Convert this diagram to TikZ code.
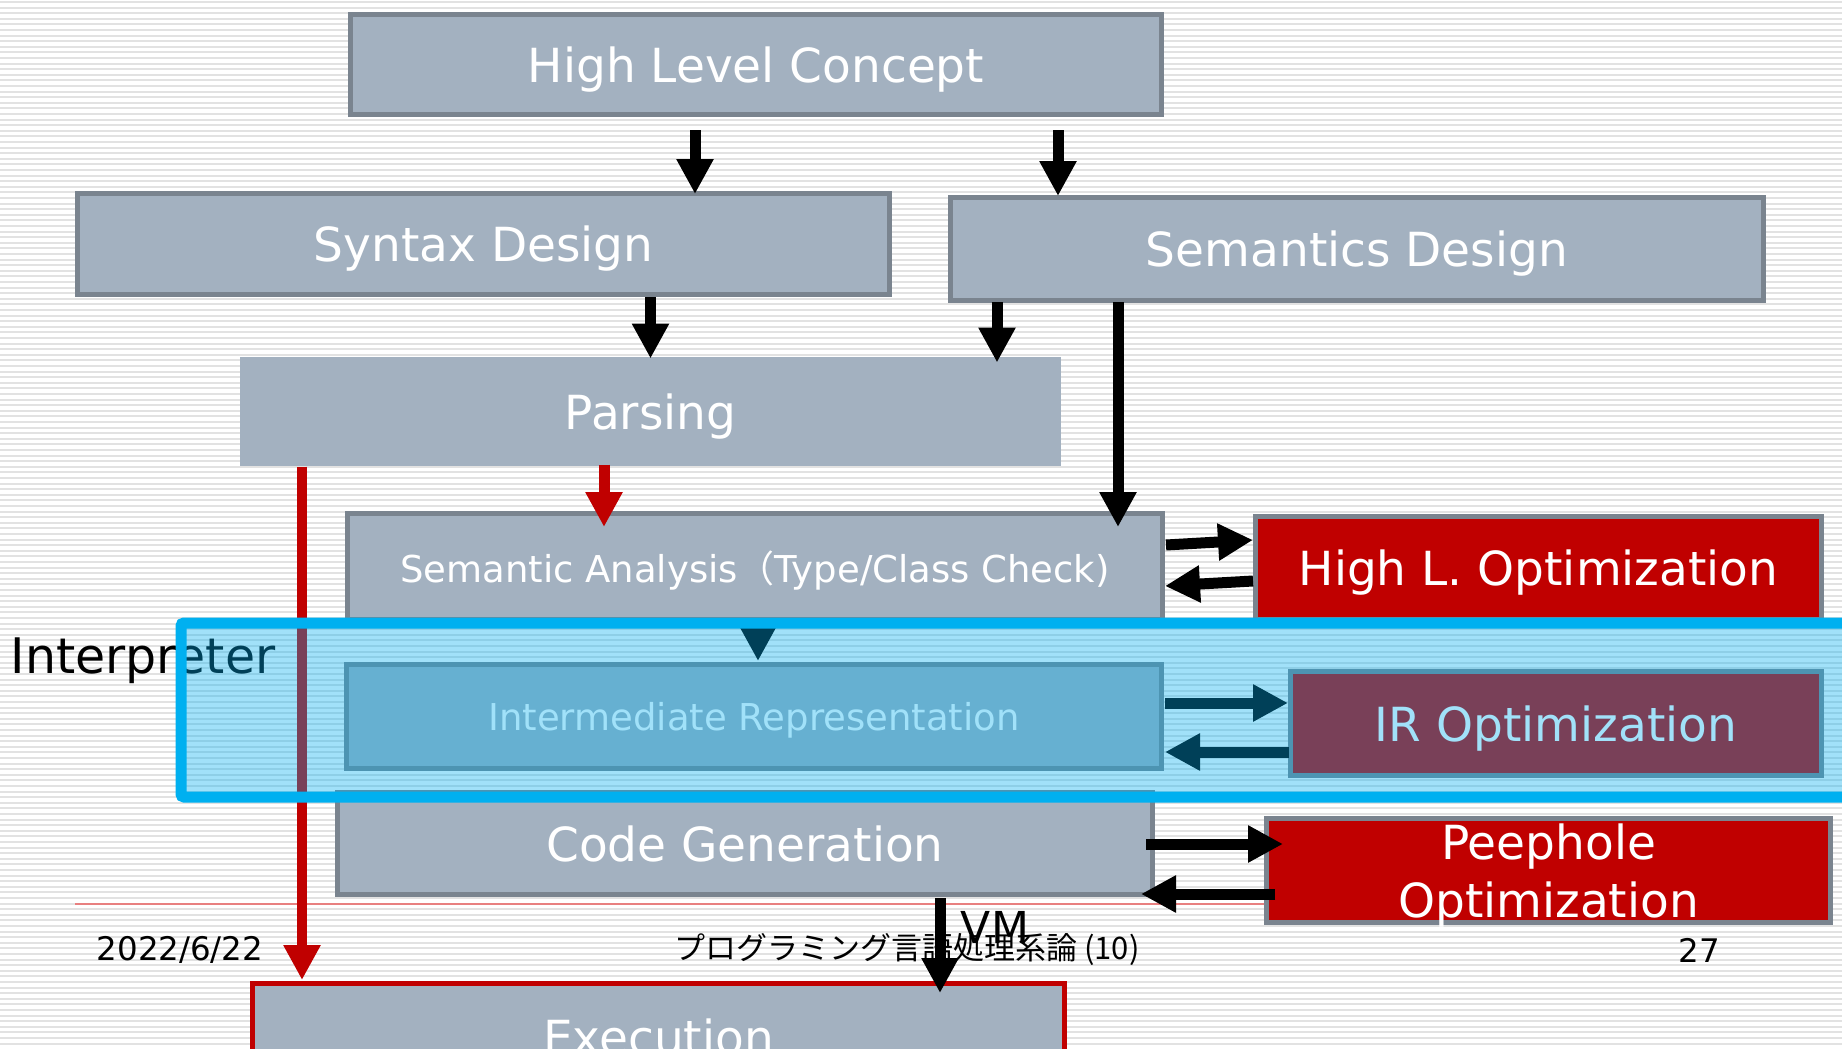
\documentclass[tikz,border=0pt]{standalone}
\usepackage{fontspec}
\setmainfont{DejaVu Sans}
\newfontfamily\cjkfont{Noto Sans CJK JP}
\usetikzlibrary{arrows.meta,calc}

\definecolor{boxgray}{HTML}{A3B1C0}
\definecolor{boxline}{HTML}{7A848F}
\definecolor{optred}{HTML}{C00000}
\definecolor{interblue}{HTML}{00B0F0}
\definecolor{footline}{HTML}{E88080}
\definecolor{stripegray}{HTML}{E2E2E2}

\newcommand{\stagefont}{\fontsize{47}{58}\selectfont}
\newcommand{\midfont}{\fontsize{37}{44}\selectfont}
\newcommand{\footfont}{\fontsize{32.5}{36}\selectfont}

\tikzset{
  stage/.style={draw=boxline, fill=boxgray, line width=5pt, text=white,
    font=\stagefont, inner sep=0pt, text depth=0pt, align=center},
  optbox/.style={stage, fill=optred},
  flow/.style={line width=11pt, -{Triangle[width=35pt,length=35pt]}},
  redflow/.style={flow, draw=optred}
}

\begin{document}
\begin{tikzpicture}[x=1pt, y=-1pt]
\useasboundingbox[fill=white] (0,0) rectangle (1842,1049);
% striped slide background
\foreach \y in {2,7.6,...,1049}
  \draw[stripegray, line width=2pt] (0,\y) -- (1842,\y);

% footer
\draw[footline, line width=2pt] (75,904) -- (1270,904);
\node[font=\footfont] (date) at (180,950) {2022/6/22};
\node[font=\fontsize{31}{36}\selectfont\cjkfont] (title) at (907,950) {プログラミング言語処理系論 (10)};
\node[font=\footfont] (page) at (1699,950) {27};

% stages
\node[stage, minimum width=811, minimum height=100] (hlc) at (756,64.5) {High Level Concept};
\node[stage, minimum width=812, minimum height=101] (syn) at (483.5,244) {Syntax Design};
\node[stage, minimum width=813, minimum height=103] (sem) at (1357,249) {Semantics Design};
\node[stage, draw=none, minimum width=821, minimum height=109] (pars) at (650.5,411.5) {Parsing};
\node[stage, font=\midfont, minimum width=815, minimum height=106] (ana) at (755,566.5)
  {Semantic Analysis{\cjkfont （}Type/Class Check)};
\node[optbox, minimum width=566, minimum height=103] (hlo) at (1538.5,568) {High L. Optimization};
\node[stage, font=\midfont, minimum width=815, minimum height=104] (ir) at (754,716.5) {Intermediate Representation};
\node[optbox, minimum width=531, minimum height=104] (iro) at (1556,723.5) {IR Optimization};
\node[stage, minimum width=815, minimum height=102] (cg) at (745,843.5) {Code Generation};
\node[optbox, minimum width=564, minimum height=104] (peep) at (1548.5,870.5) {Peephole\\Optimization};
\node[stage, draw=optred, minimum width=812, minimum height=107] (exec) at (658.5,1037) {Execution};

% arrows
\draw[flow] ($(hlc.south)+(-61,13)$) -- ($(syn.north)+(211.5,3)$);
\draw[flow] ($(hlc.south)+(302,13)$) -- ($(sem.north)+(-299,1)$);
\draw[flow] ($(syn.south)+(167,0)$) -- ($(pars.north)+(0,4)$);
\draw[flow] ($(sem.south)+(-360,-1)$) -- ($(pars.north)+(346.5,8)$);
\draw[flow] ($(sem.south)+(-239,-1)$) -- ($(ana.north)+(363,16)$);
\draw[redflow] ($(pars.south)+(-46.5,-4)$) -- ($(ana.north)+(-151,16)$);
\draw[redflow, line width=10pt] ($(pars.south)+(-348.5,-2)$) -- ($(exec.north)+(-356.5,-1)$);
\draw[flow] ($(ana.east)+(1,-21.5)$) -- ($(hlo.west)+(0,-28)$);
\draw[flow] ($(hlo.west)+(0,13)$) -- ($(ana.east)+(0,19.5)$);
\draw[flow] ($(ana.south)+(3,-2)$) -- ($(ir.north)+(4,-1)$);
\draw[flow] ($(ir.east)+(1,-13.5)$) -- ($(iro.west)+(0,-20.5)$);
\draw[flow] ($(iro.west)+(1,28.5)$) -- ($(ir.east)+(1,35.5)$);
\draw[flow] ($(cg.east)+(-9,0.5)$) -- ($(peep.west)+(19,-26.5)$);
\draw[flow] ($(peep.west)+(11,23.5)$) -- ($(cg.east)+(-14,50.5)$);
\draw[flow] ($(cg.south)+(195,1)$) -- ($(exec.north)+(281.5,12)$);
\node[font=\fontsize{44}{50}\selectfont] (vm) at (995,927) {VM};

% interpreter frame
\node[font=\fontsize{49}{54}\selectfont] (interp) at (143,661) {Interpreter};
\draw[interblue, line width=11pt, fill=interblue, fill opacity=0.37, rounded corners=3pt]
  (181,623) rectangle (1848,797);
\end{tikzpicture}
\end{document}
